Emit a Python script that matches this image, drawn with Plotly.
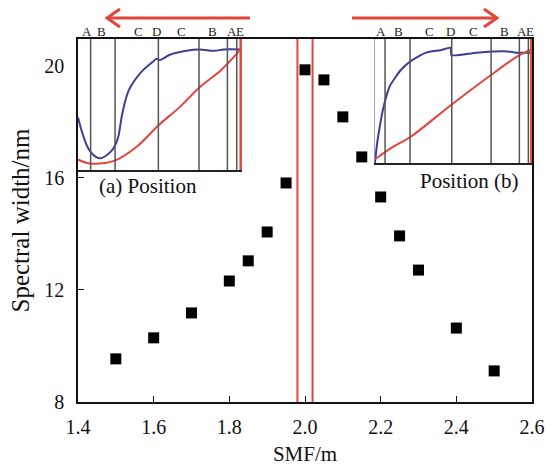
import plotly.graph_objects as go

# ---- main data ----
smf_m = [1.5, 1.6, 1.7, 1.8, 1.85, 1.9, 1.95, 2.0, 2.05, 2.1, 2.15, 2.2, 2.25, 2.3, 2.4, 2.5]
width_nm = [9.54, 10.29, 11.18, 12.32, 13.04, 14.07, 15.82, 19.86, 19.5, 18.18, 16.75, 15.32, 13.93, 12.71, 10.64, 9.11]
marker_lines_x = [1.98, 2.02]
x_ticks = [1.4, 1.6, 1.8, 2.0, 2.2, 2.4, 2.6]
y_ticks = [8, 12, 16, 20]

# ---- inset (a) data (normalised position 0-100, value 0-100) ----
a_blue_x = [0, 7, 13, 20, 24, 27, 31, 38, 46, 48, 50, 56, 66, 74, 83, 89, 99]
a_blue_y = [40, 15, 9, 14, 23, 43, 61, 74, 83, 85, 84, 88, 91, 92, 91, 92, 92]
a_red_x = [0, 7, 22, 36, 49, 62, 74, 87, 97, 99]
a_red_y = [8, 5, 7, 18, 34, 48, 63, 76, 89, 92]
a_sec_x = [7.7, 22.6, 49, 73.8, 91.1, 96.8]
a_end_x = 99.2
a_lab_x = [5.5, 14.6, 36.6, 48, 63.4, 82.3, 93.9, 98.6]
a_lab = ["A", "B", "C", "D", "C", "B", "A", "E"]

# ---- inset (b) data ----
b_blue_x = [0.6, 2, 4, 6, 10, 17, 23, 33, 42, 48.5, 49, 65, 84, 90, 100]
b_blue_y = [0, 16, 32, 45, 62, 75, 82, 89, 91, 93, 87, 89, 90, 89, 89]
b_red_x = [0.6, 12, 23, 49, 73, 92, 97, 100]
b_red_y = [3, 13, 21, 47, 70, 87, 90, 92]
b_start_x = 0
b_sec_x = [7, 22.8, 49.2, 74.1, 92, 97.7]
b_end_x = 99.6
b_lab_x = [4.2, 15.4, 35.4, 48.7, 62.9, 82.9, 93.9, 98.7]
b_lab = ["A", "B", "C", "D", "C", "B", "A", "E"]

FONT = "Liberation Serif"
RED = "#e2453b"
BLUE = "#3e3e96"
GRAY = "#555555"

L, R, T, B = 78, 14, 39, 65
W, H = 546, 467
PW, PH = W - L - R, H - T - B


def px(x):
    return (x - L) / PW


def py(y):
    return (H - B - y) / PH


fig = go.Figure()

fig.add_trace(go.Scatter(x=smf_m, y=width_nm, mode="markers",
                         marker=dict(symbol="square", size=11, color="black"),
                         xaxis="x", yaxis="y", showlegend=False))

# inset curves
fig.add_trace(go.Scatter(x=a_blue_x, y=a_blue_y, mode="lines", line=dict(color=BLUE, width=2, shape="spline"),
                         xaxis="x2", yaxis="y2", showlegend=False))
fig.add_trace(go.Scatter(x=a_red_x, y=a_red_y, mode="lines", line=dict(color=RED, width=2, shape="spline"),
                         xaxis="x2", yaxis="y2", showlegend=False))
fig.add_trace(go.Scatter(x=b_blue_x, y=b_blue_y, mode="lines", line=dict(color=BLUE, width=2, shape="spline", smoothing=0.6),
                         xaxis="x3", yaxis="y3", showlegend=False))
fig.add_trace(go.Scatter(x=b_red_x, y=b_red_y, mode="lines", line=dict(color=RED, width=2, shape="spline"),
                         xaxis="x3", yaxis="y3", showlegend=False))

shapes = []
for xv in marker_lines_x:
    shapes.append(dict(type="line", xref="x", yref="paper", x0=xv, x1=xv, y0=0, y1=1,
                       line=dict(color=RED, width=2)))
for xv in a_sec_x:
    shapes.append(dict(type="line", xref="x2", yref="y2 domain", x0=xv, x1=xv, y0=0, y1=1,
                       line=dict(color=GRAY, width=1.5)))
shapes.append(dict(type="line", xref="x2", yref="y2 domain", x0=a_end_x, x1=a_end_x, y0=0, y1=1,
                   line=dict(color=RED, width=2.5)))
for xv in b_sec_x:
    shapes.append(dict(type="line", xref="x3", yref="y3 domain", x0=xv, x1=xv, y0=0, y1=1,
                       line=dict(color=GRAY, width=1.5)))
shapes.append(dict(type="line", xref="x3", yref="y3 domain", x0=b_start_x, x1=b_start_x, y0=0, y1=1,
                   line=dict(color="#8080c8", width=1.5)))
shapes.append(dict(type="line", xref="x3", yref="y3 domain", x0=b_end_x, x1=b_end_x, y0=0, y1=1,
                   line=dict(color=RED, width=2.5)))

# direction arrows (decorative)
ay = py(18)
for (x0, x1, arm) in [(250, 107, 120), (352, 497, 484)]:
    shapes.append(dict(type="line", xref="paper", yref="paper", x0=px(x0), x1=px(x1), y0=ay, y1=ay,
                       line=dict(color=RED, width=3)))
    shapes.append(dict(type="path", xref="paper", yref="paper",
                       path=f"M {px(arm)} {py(9)} L {px(x1)} {ay} L {px(arm)} {py(27)}",
                       line=dict(color=RED, width=3)))

annotations = []
for xv, t in zip(a_lab_x, a_lab):
    annotations.append(dict(x=xv, y=1, xref="x2", yref="y2 domain", text=t, showarrow=False,
                            yanchor="bottom", yshift=-2, font=dict(family=FONT, size=13, color="#222")))
for xv, t in zip(b_lab_x, b_lab):
    annotations.append(dict(x=xv, y=1, xref="x3", yref="y3 domain", text=t, showarrow=False,
                            yanchor="bottom", yshift=-2, font=dict(family=FONT, size=13, color="#222")))
annotations.append(dict(x=px(97), y=py(186), xref="paper", yref="paper", text="(a) Position",
                        showarrow=False, xanchor="left", font=dict(family=FONT, size=21, color="#111")))
annotations.append(dict(x=px(521), y=py(181), xref="paper", yref="paper", text="Position (b)",
                        showarrow=False, xanchor="right", font=dict(family=FONT, size=21, color="#111")))

a_dom_x = [0, px(242)]
a_dom_y = [py(170), 1]
b_dom_x = [px(374), 1]
b_dom_y = [py(163), 1]

fig.update_layout(
    width=W, height=H,
    margin=dict(l=L, r=R, t=T, b=B, autoexpand=False),
    paper_bgcolor="white", plot_bgcolor="white",
    font=dict(family=FONT, size=20, color="#111"),
    shapes=shapes, annotations=annotations,
    xaxis=dict(range=[1.4, 2.6], tickvals=x_ticks, ticktext=[f"{v:.1f}" for v in x_ticks],
               ticks="inside", ticklen=6, tickcolor="#111", showline=True, linecolor="#111", linewidth=1.5,
               mirror=True, showgrid=False, zeroline=False, ticklabelstandoff=6, automargin=False,
               title=dict(text="SMF/m", font=dict(size=21), standoff=10)),
    yaxis=dict(range=[8, 20.96], tickvals=y_ticks, ticks="inside", ticklen=6, tickcolor="#111",
               showline=True, linecolor="#111", linewidth=1.5, mirror=True, showgrid=False, zeroline=False,
               ticklabelstandoff=8, automargin=False,
               title=dict(text="Spectral width/nm", font=dict(size=25), standoff=8)),
    xaxis2=dict(domain=a_dom_x, range=[0, 100], anchor="y2", showticklabels=False, ticks="",
                showline=True, linecolor="#222", linewidth=1.5, showgrid=False, zeroline=False, fixedrange=True),
    yaxis2=dict(domain=a_dom_y, range=[0, 100], anchor="x2", showticklabels=False, ticks="",
                showline=False, showgrid=False, zeroline=False, fixedrange=True),
    xaxis3=dict(domain=b_dom_x, range=[0, 100], anchor="y3", showticklabels=False, ticks="",
                showline=True, linecolor="#222", linewidth=1.5, showgrid=False, zeroline=False, fixedrange=True),
    yaxis3=dict(domain=b_dom_y, range=[0, 100], anchor="x3", showticklabels=False, ticks="",
                showline=False, showgrid=False, zeroline=False, fixedrange=True),
)

fig.write_html("out.html", config={"displayModeBar": False},
               post_script="document.body.style.margin='0';document.body.style.overflow='hidden';")
